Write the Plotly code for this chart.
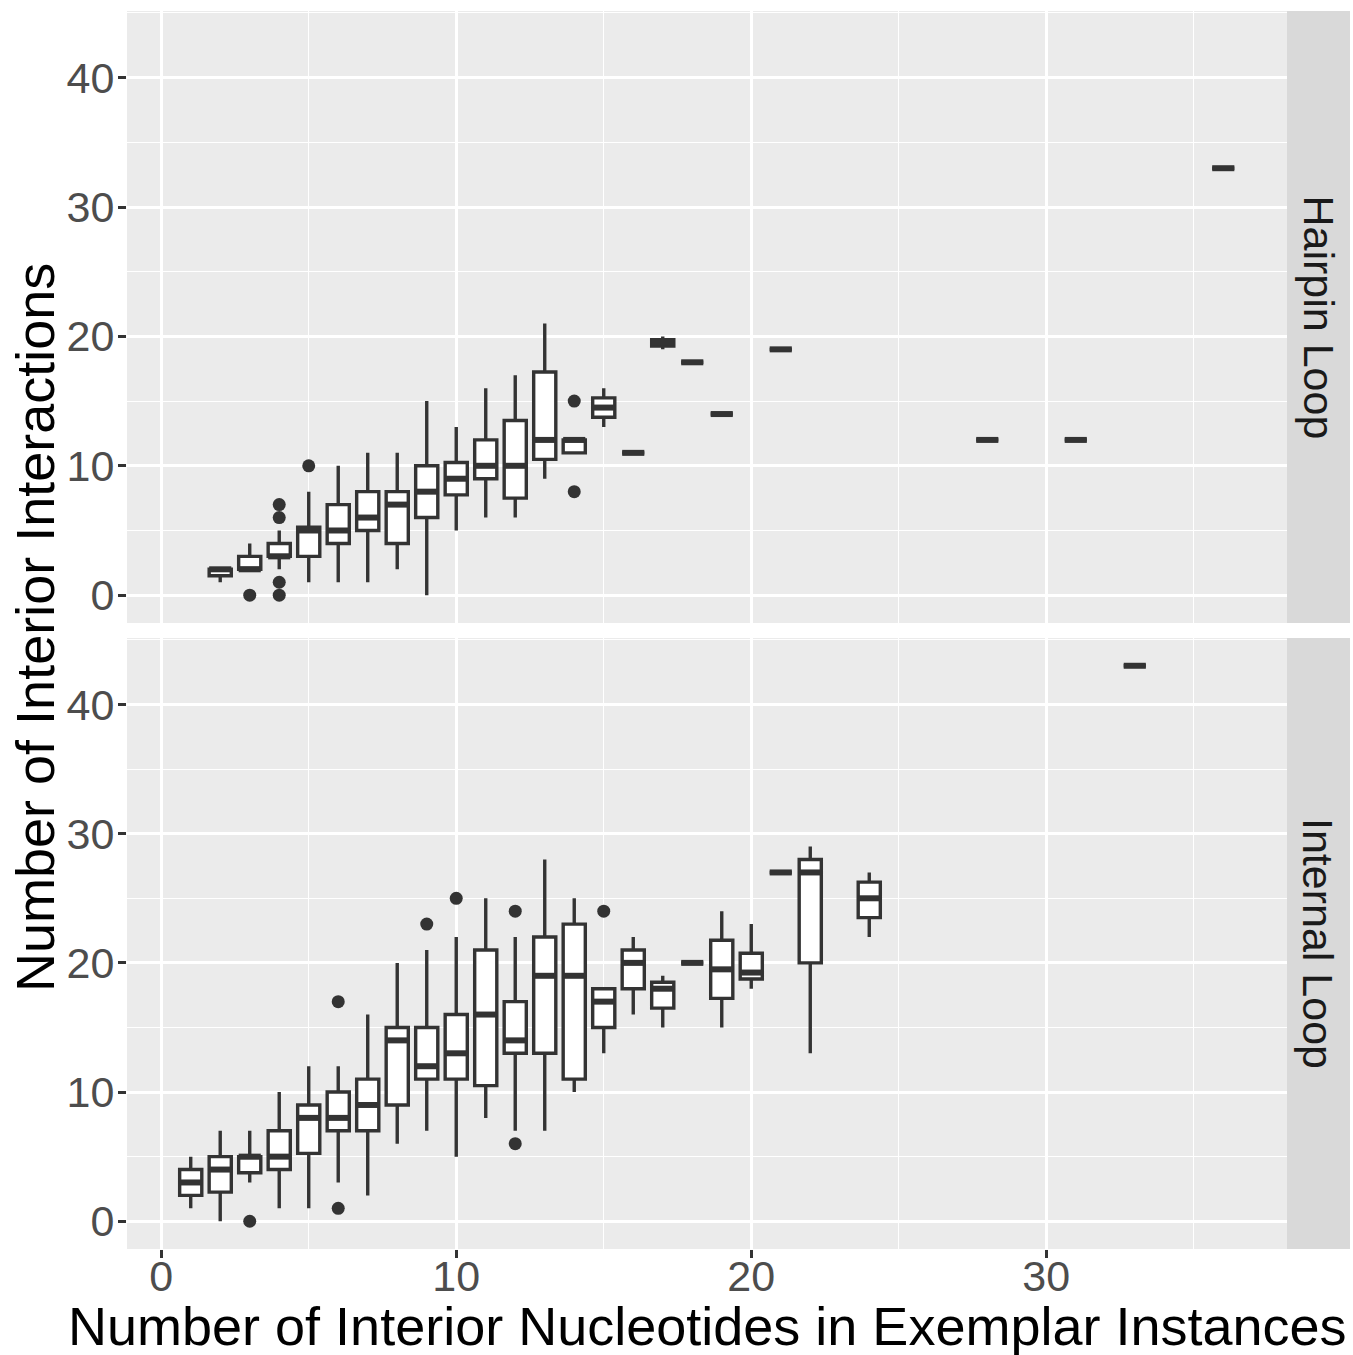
import plotly.graph_objects as go

# ---------------- data ----------------
# Hairpin Loop (top panel)
hp_x = [2, 3, 4, 5, 6, 7, 8, 9, 10, 11, 12, 13, 14, 15, 16, 17, 18, 19, 21, 28, 31, 36]
hp_q1 = [1.5, 2, 3, 3, 4, 5, 4, 6, 7.75, 9, 7.5, 10.5, 11, 13.75, 11, 19.25, 18, 14, 19, 12, 12, 33]
hp_med = [2, 2, 3, 5, 5, 6, 7, 8, 9, 10, 10, 12, 12, 14.5, 11, 19.5, 18, 14, 19, 12, 12, 33]
hp_q3 = [2, 3, 4, 5.25, 7, 8, 8, 10, 10.25, 12, 13.5, 17.25, 12, 15.25, 11, 19.75, 18, 14, 19, 12, 12, 33]
hp_lo = [1, 2, 2, 1, 1, 1, 2, 0, 5, 6, 6, 9, 11, 13, 11, 19, 18, 14, 19, 12, 12, 33]
hp_hi = [2, 4, 5, 8, 10, 11, 11, 15, 13, 16, 17, 21, 12, 16, 11, 20, 18, 14, 19, 12, 12, 33]
hp_out_x = [3, 4, 4, 4, 4, 5, 14, 14]
hp_out_y = [0, 7, 6, 1, 0, 10, 15, 8]

# Internal Loop (bottom panel)
il_x = [1, 2, 3, 4, 5, 6, 7, 8, 9, 10, 11, 12, 13, 14, 15, 16, 17, 18, 19, 20, 21, 22, 24, 33]
il_q1 = [2, 2.25, 3.75, 4, 5.25, 7, 7, 9, 11, 11, 10.5, 13, 13, 11, 15, 18, 16.5, 20, 17.25, 18.75, 27, 20, 23.5, 43]
il_med = [3, 4, 5, 5, 8, 8, 9, 14, 12, 13, 16, 14, 19, 19, 17, 20, 18, 20, 19.5, 19.25, 27, 27, 25, 43]
il_q3 = [4, 5, 5, 7, 9, 10, 11, 15, 15, 16, 21, 17, 22, 23, 18, 21, 18.5, 20, 21.75, 20.75, 27, 28, 26.25, 43]
il_lo = [1, 0, 3, 1, 1, 3, 2, 6, 7, 5, 8, 7, 7, 10, 13, 16, 15, 20, 15, 18, 27, 13, 22, 43]
il_hi = [5, 7, 7, 10, 12, 12, 16, 20, 21, 22, 25, 22, 28, 25, 18, 22, 19, 20, 24, 23, 27, 29, 27, 43]
il_out_x = [3, 6, 6, 9, 10, 12, 12, 15]
il_out_y = [0, 17, 1, 23, 25, 24, 6, 24]

panel_labels = ["Hairpin Loop", "Internal Loop"]
x_title = "Number of Interior Nucleotides in Exemplar Instances"
y_title = "Number of Interior Interactions"

# ---------------- style ----------------
BOX_W = 0.75
DARK = "#333333"
FONT = "Liberation Sans"

fig = go.Figure()


def add_panel(xs, q1, med, q3, lo, hi, ox, oy, xref, yref):
    fig.add_trace(go.Box(
        x=xs, q1=q1, median=med, q3=q3, lowerfence=lo, upperfence=hi,
        width=BOX_W, whiskerwidth=0, boxpoints=False,
        fillcolor="white", line=dict(color=DARK, width=3.4),
        xaxis=xref, yaxis=yref, showlegend=False, hoverinfo="skip",
    ))
    # fattened median lines (ggplot style)
    mx, my = [], []
    for xv, mv in zip(xs, med):
        mx += [xv - BOX_W / 2, xv + BOX_W / 2, None]
        my += [mv, mv, None]
    fig.add_trace(go.Scatter(
        x=mx, y=my, mode="lines", line=dict(color=DARK, width=6),
        xaxis=xref, yaxis=yref, showlegend=False, hoverinfo="skip",
    ))
    fig.add_trace(go.Scatter(
        x=ox, y=oy, mode="markers",
        marker=dict(color=DARK, size=13, line=dict(width=0)),
        xaxis=xref, yaxis=yref, showlegend=False, hoverinfo="skip",
    ))


add_panel(hp_x, hp_q1, hp_med, hp_q3, hp_lo, hp_hi, hp_out_x, hp_out_y, "x2", "y2")
add_panel(il_x, il_q1, il_med, il_q3, il_lo, il_hi, il_out_x, il_out_y, "x", "y")

W, H = 1353, 1355
ML, MR, MT, MB = 127, 66, 11, 106
pw = W - ML - MR
ph = H - MT - MB

top_dom = [(1249 - 623) / ph, 1.0]
bot_dom = [0.0, (1249 - 638) / ph]

xrange = [-1.16, 38.16]
yrange = [-2.15, 45.15]

common_x = dict(
    range=xrange, tick0=0, dtick=10, showgrid=True, gridcolor="white", gridwidth=2.6,
    zeroline=False, showline=False,
    minor=dict(tick0=0, dtick=5, showgrid=True, gridcolor="white", gridwidth=1.3, ticks=""),
)
common_y = dict(
    range=yrange, tick0=0, dtick=10, showgrid=True, gridcolor="white", gridwidth=2.6,
    zeroline=False, showline=False,
    ticks="outside", ticklen=8, tickwidth=3, tickcolor=DARK, ticklabelstandoff=-5,
    tickfont=dict(family=FONT, size=43, color="#4D4D4D"),
    minor=dict(tick0=0, dtick=5, showgrid=True, gridcolor="white", gridwidth=1.3, ticks=""),
)

fig.update_layout(
    width=W, height=H,
    margin=dict(l=ML, r=MR, t=MT, b=MB),
    paper_bgcolor="white", plot_bgcolor="#EBEBEB",
    font=dict(family=FONT),
    showlegend=False,
    xaxis=dict(domain=[0, 1], anchor="y", ticks="outside", ticklen=8, tickwidth=3,
               tickcolor=DARK, ticklabelstandoff=-19,
               tickfont=dict(family=FONT, size=43, color="#4D4D4D"),
               **common_x),
    xaxis2=dict(domain=[0, 1], anchor="y2", matches="x", showticklabels=False, ticks="",
                **common_x),
    yaxis=dict(domain=bot_dom, anchor="x", **common_y),
    yaxis2=dict(domain=top_dom, anchor="x2", **common_y),
)

# facet strips
strip_x0 = 1.0
strip_x1 = (1350 - ML) / pw
for dom, label in zip([top_dom, bot_dom], panel_labels):
    fig.add_shape(type="rect", xref="paper", yref="paper",
                  x0=strip_x0, x1=strip_x1, y0=dom[0], y1=dom[1],
                  fillcolor="#D9D9D9", line=dict(width=0), layer="below")
    fig.add_annotation(xref="paper", yref="paper",
                       x=(strip_x0 + strip_x1) / 2, y=(dom[0] + dom[1]) / 2,
                       text=label, textangle=90, showarrow=False,
                       xanchor="center", yanchor="middle",
                       font=dict(family=FONT, size=43, color="#1A1A1A"))

# axis titles
fig.add_annotation(xref="paper", yref="paper", x=0.5, y=(1249 - 1326) / ph,
                   text=x_title, showarrow=False, xanchor="center", yanchor="middle",
                   font=dict(family=FONT, size=54, color="black"))
fig.add_annotation(xref="paper", yref="paper", x=(35 - ML) / pw, y=(1249 - 628) / ph,
                   text=y_title, textangle=-90, showarrow=False,
                   xanchor="center", yanchor="middle",
                   font=dict(family=FONT, size=54, color="black"))

fig.write_html("out.html")
